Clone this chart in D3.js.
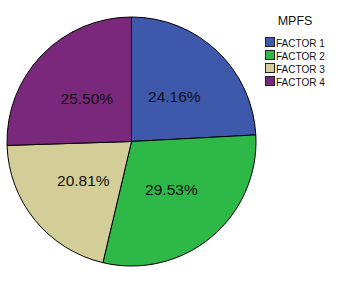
<!DOCTYPE html>
<html>
<head>
<meta charset="utf-8">
<script src="https://cdn.jsdelivr.net/npm/d3@7"></script>
<style>
  body { margin: 0; background: #fff; }
  text { font-family: Arial, "Liberation Sans", sans-serif; }
</style>
</head>
<body>
<div class="container"></div>
<script>
const factores = ["FACTOR 1", "FACTOR 2", "FACTOR 3", "FACTOR 4"]
const porcentajes = [24.16, 29.53, 20.81, 25.50]
const colores = ["#3e58ac", "#2eb848", "#d3ce97", "#7a287c"]
const titulo = "MPFS"

const size = {WIDTH: 341, HEIGHT: 283}
const centro = {x: 131.5, y: 141.5}
const radio = 124.5

const svg = d3.select(".container")
              .append("svg")
              .attr("width", size.WIDTH)
              .attr("height", size.HEIGHT)

const color = d3.scaleOrdinal()
                .domain(factores)
                .range(colores)

const pie = d3.pie()
              .sort(null)
              .value((d) => d.valor)

const datos = factores.map((f, i) => ({nombre: f, valor: porcentajes[i]}))

const arco = d3.arc()
               .innerRadius(0)
               .outerRadius(radio)

const g = svg.append("g")
             .attr("transform", `translate(${centro.x} ${centro.y})`)

g.selectAll("path")
 .data(pie(datos))
 .join("path")
 .attr("d", arco)
 .attr("fill", (d) => color(d.data.nombre))
 .attr("stroke", "#000")
 .attr("stroke-width", 1)

// etiquetas en el centroide de cada trozo
g.selectAll(".etiqueta")
 .data(pie(datos))
 .join("text")
 .attr("class", "etiqueta")
 .attr("x", (d) => arco.centroid(d)[0])
 .attr("y", (d) => arco.centroid(d)[1])
 .attr("text-anchor", "middle")
 .attr("dy", "0.36em")
 .attr("font-size", "15.5px")
 .attr("fill", "#111")
 .text((d) => d.data.valor.toFixed(2) + "%")

// leyenda
const leyenda = svg.append("g")
                   .attr("transform", "translate(265 37)")

leyenda.append("text")
       .attr("x", 30)
       .attr("y", -12)
       .attr("text-anchor", "middle")
       .attr("font-size", "12.5px")
       .attr("fill", "#111")
       .text(titulo)

const y = d3.scaleBand()
            .domain(factores)
            .range([0, 52])

const items = leyenda.selectAll(".item")
                     .data(factores)
                     .join("g")
                     .attr("class", "item")
                     .attr("transform", (d) => `translate(0 ${y(d)})`)

items.append("rect")
     .attr("x", 0.5)
     .attr("y", 0.5)
     .attr("width", 9)
     .attr("height", 9)
     .attr("fill", (d) => color(d))
     .attr("stroke", "#222")

items.append("text")
     .attr("x", 11)
     .attr("y", 9.5)
     .attr("font-size", "10px")
     .attr("fill", "#111")
     .text((d) => d)
</script>
</body>
</html>
